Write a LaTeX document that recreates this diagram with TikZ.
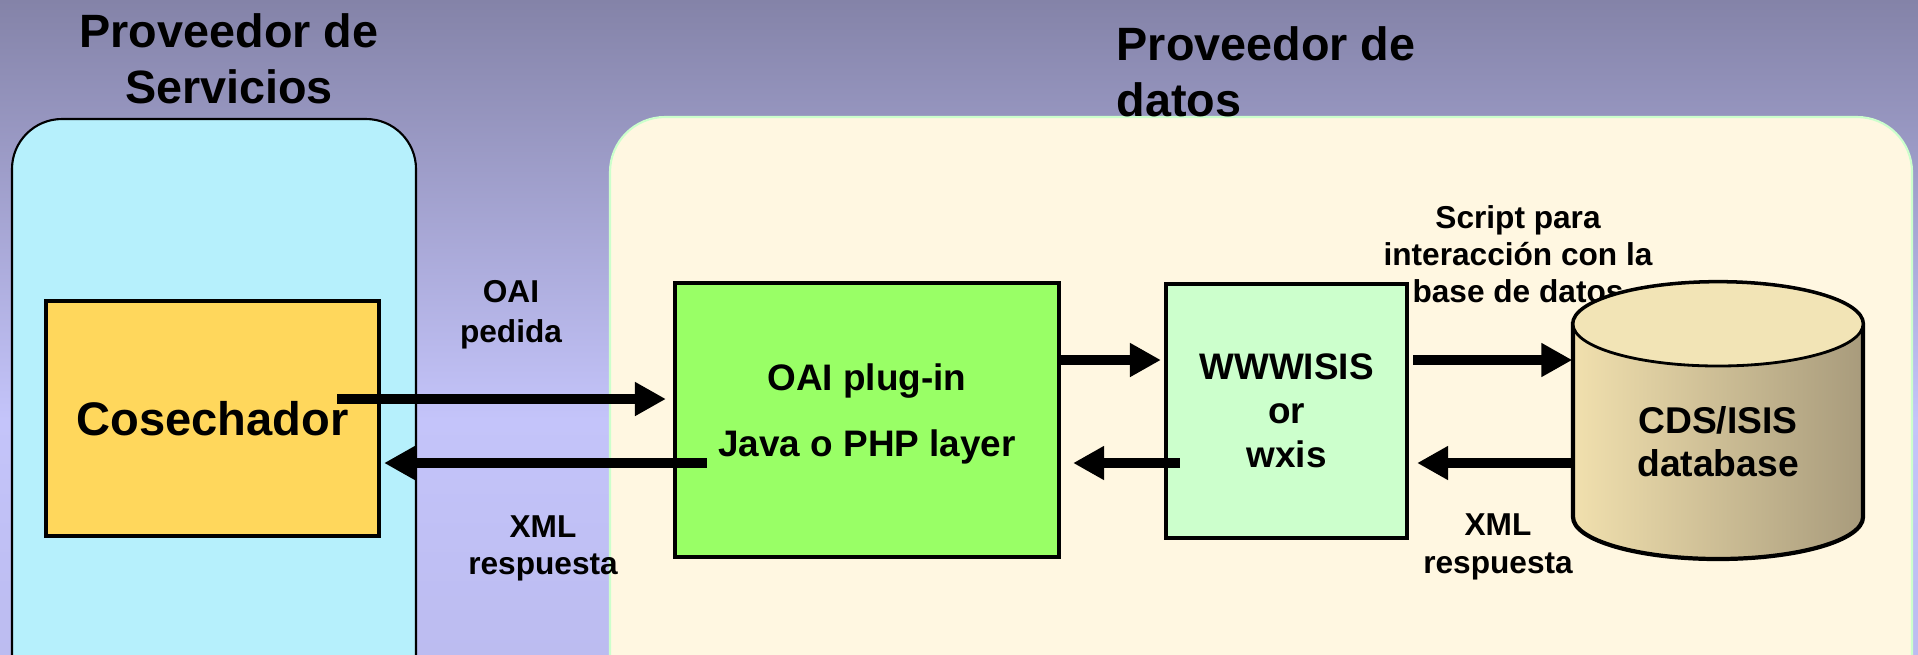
\documentclass[tikz,border=0pt]{standalone}
\usepackage{fontspec}
\setmainfont{Liberation Sans}
\usetikzlibrary{arrows.meta}

\definecolor{bgtop}{HTML}{8483A8}
\definecolor{bgmid}{HTML}{C4C4FA}
\definecolor{bgbot}{HTML}{BCBCF0}
\definecolor{servfill}{HTML}{B6F0FC}
\definecolor{datafill}{HTML}{FFF7E1}
\definecolor{datadraw}{HTML}{CCFFCC}
\definecolor{cosfill}{HTML}{FFD75C}
\definecolor{oaifill}{HTML}{99FF66}
\definecolor{wisfill}{HTML}{CCFFCC}
\definecolor{dbleft}{HTML}{F1E0AE}
\definecolor{dbright}{HTML}{A89B7C}
\definecolor{dbtop}{HTML}{F2E4B6}

\tikzset{
  panel/.style={line width=0.6pt},
  heading/.style={inner sep=0pt, font=\bfseries\fontsize{13.3}{16}\selectfont},
  box/.style={draw, line width=1.2pt, inner sep=0pt, align=center,
    font=\bfseries\fontsize{10.5}{19}\selectfont},
  note/.style={inner sep=0pt, align=center, font=\bfseries\fontsize{9}{10.6}\selectfont},
  flow/.style={line width=1mm, -{Triangle[length=3.1mm,width=3.2mm]}},
}

\begin{document}
\begin{tikzpicture}
    \useasboundingbox (0,0) rectangle (19.18,6.54);
    \clip (0,0) rectangle (19.18,6.54);
    \shade[top color=bgtop, bottom color=bgmid] (0,2.34) rectangle (19.18,6.54);
    \shade[top color=bgmid, bottom color=bgbot] (0,0) rectangle (19.18,2.34);

    % the two providers
    \draw[panel, rounded corners=5mm, fill=servfill] (0.12,-1) rectangle (4.16,5.35);
    \draw[panel, rounded corners=5.5mm, draw=datadraw, fill=datafill] (6.10,-1) rectangle (19.12,5.37);
    \node[heading, align=center] (serv) at (2.29,5.955) {Proveedor de\\Servicios};
    \node[heading, align=left, anchor=west] (data) at (11.16,5.82) {Proveedor de\\datos};

    % boxes
    \node[box, fill=cosfill, minimum width=3.33cm, minimum height=2.35cm,
      font=\bfseries\fontsize{13.4}{16}\selectfont] (cos) at (2.125,2.355) {Cosechador};
    \node[box, fill=oaifill, minimum width=3.84cm, minimum height=2.74cm, text depth=5.6pt] (oai) at (8.67,2.34)
      {OAI plug-in\\Java o PHP layer};
    \node[box, fill=wisfill, minimum width=2.41cm, minimum height=2.54cm,
      font=\bfseries\fontsize{10.5}{12.5}\selectfont] (wis) at (12.865,2.43) {WWWISIS\\or\\wxis};

    % labels
    \node[note, font=\bfseries\fontsize{9}{11.4}\selectfont] (ask) at (5.11,3.39) {OAI\\pedida};
    \node[note] (resp) at (5.43,1.055) {XML\\respuesta};
    \node[note] (script) at (15.18,4.0) {Script para\\interacción con la\\base de datos};
    \node[note] (dbresp) at (14.98,1.07) {XML\\respuesta};

    % database
    \shadedraw[left color=dbleft, right color=dbright, line width=1.2pt]
      (15.73,3.30) -- (15.73,1.37) arc[start angle=180, end angle=360, x radius=1.45cm, y radius=0.42cm]
      -- (18.63,3.30) arc[start angle=0, end angle=180, x radius=1.45cm, y radius=0.42cm] -- cycle;
    \filldraw[fill=dbtop, line width=0.8pt] (17.18,3.30) ellipse [x radius=1.45cm, y radius=0.42cm];
    \node[inner sep=0pt, align=center, minimum width=2.9cm,
      font=\bfseries\fontsize{10.6}{12.2}\selectfont] (db) at (17.18,2.125) {CDS/ISIS\\database};

    % arrows
    \coordinate (askY) at (0,2.55);
    \coordinate (upY) at (0,2.94);
    \coordinate (backY) at (0,1.91);
    \draw[flow] ([xshift=-4.4mm]cos.east |- askY) -- ([xshift=-0.7mm]oai.west |- askY);
    \draw[flow] ([xshift=3.4mm]oai.west |- backY) -- ([xshift=0.3mm]cos.east |- backY);
    \draw[flow] (oai.east |- upY) -- ([xshift=-0.3mm]wis.west |- upY);
    \draw[flow] ([xshift=1.6mm]wis.west |- backY) -- ([xshift=1.2mm]oai.east |- backY);
    \draw[flow] ([xshift=0.4mm]wis.east |- upY) -- (db.west |- upY);
    \draw[flow] (db.west |- backY) -- ([xshift=0.8mm]wis.east |- backY);
\end{tikzpicture}
\end{document}
